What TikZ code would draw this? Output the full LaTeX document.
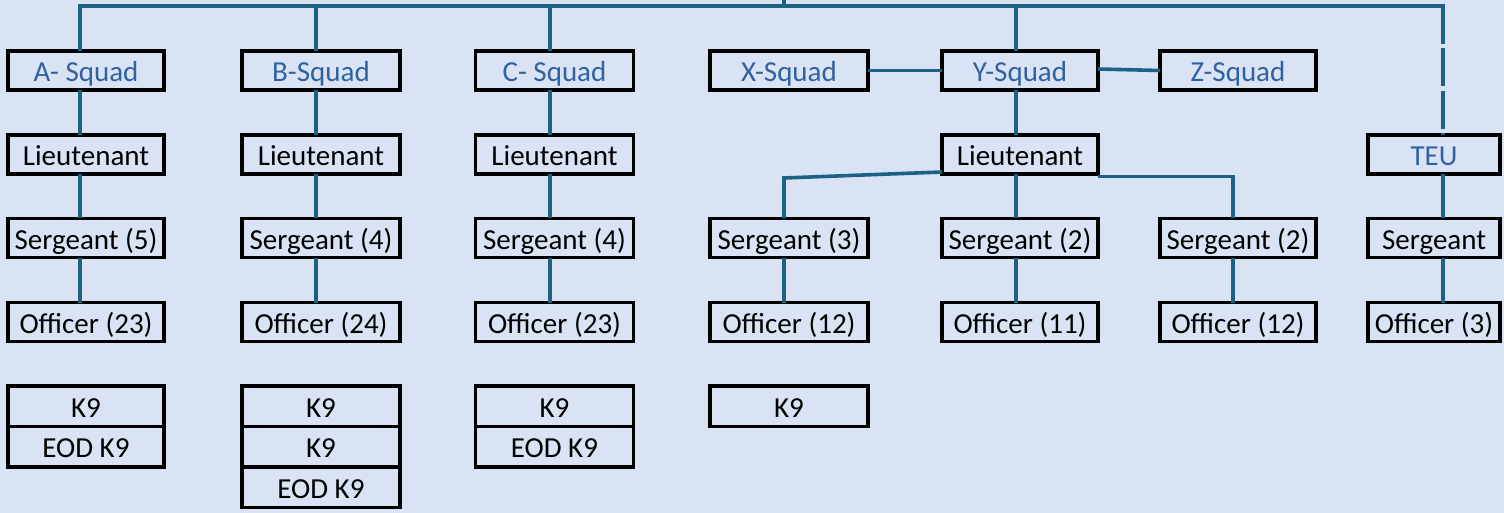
\documentclass[tikz,border=0pt]{standalone}
\usepackage{fontspec}
\setmainfont{Carlito}
\definecolor{bg}{HTML}{DAE3F3}
\definecolor{conn}{HTML}{1C6287}
\definecolor{sqtext}{HTML}{2E62A0}
\begin{document}
\begin{tikzpicture}[x=1pt,y=-1pt,
  box/.style={draw=black,line width=3.8pt,inner sep=0pt,outer sep=0pt,
    minimum height=39pt,text height=24pt,text depth=1.6pt,
    font=\fontsize{29}{31}\selectfont,text=black},
  sq/.style={box,text=sqtext},
  wA/.style={minimum width=156pt},
  wB/.style={minimum width=158pt},
  wT/.style={minimum width=132pt},
  kbox/.style={box,minimum height=40.5pt},
  link/.style={draw=conn,line width=3.6pt}]
\fill[bg] (0,0) rectangle (1504,513);
\useasboundingbox (0,0) rectangle (1504,513);
% squads
\node[sq,wA] (Asq) at (86,70.5) {A- Squad};
\node[sq,wB] (Bsq) at (321,70.5) {B-Squad};
\node[sq,wB] (Csq) at (554.5,70.5) {C- Squad};
\node[sq,wB] (Xsq) at (789,70.5) {X-Squad};
\node[sq,wA] (Ysq) at (1020,70.5) {Y-Squad};
\node[sq,wA] (Zsq) at (1238,70.5) {Z-Squad};
% lieutenants
\node[box,wA] (Alt) at (86,154.5) {Lieutenant};
\node[box,wB] (Blt) at (321,154.5) {Lieutenant};
\node[box,wB] (Clt) at (554.5,154.5) {Lieutenant};
\node[box,wA] (Ylt) at (1020,154.5) {Lieutenant};
\node[sq,wT] (TEU) at (1434,154.5) {TEU};
% sergeants
\node[box,wA] (Asg) at (86,238) {Sergeant (5)};
\node[box,wB] (Bsg) at (321,238) {Sergeant (4)};
\node[box,wB] (Csg) at (554.5,238) {Sergeant (4)};
\node[box,wB] (Y1sg) at (789,238) {Sergeant (3)};
\node[box,wA] (Y2sg) at (1020,238) {Sergeant (2)};
\node[box,wA] (Y3sg) at (1238,238) {Sergeant (2)};
\node[box,wT] (Tsg) at (1434,238) {Sergeant};
% officers
\node[box,wA] (Aof) at (86,322) {Officer (23)};
\node[box,wB] (Bof) at (321,322) {Officer (24)};
\node[box,wB] (Cof) at (554.5,322) {Officer (23)};
\node[box,wB] (Y1of) at (789,322) {Officer (12)};
\node[box,wA] (Y2of) at (1020,322) {Officer (11)};
\node[box,wA] (Y3of) at (1238,322) {Officer (12)};
\node[box,wT] (Tof) at (1434,322) {Officer (3)};
% K9 stacks
\node[kbox,wA] (Ak1) at (86,406.25) {K9};
\node[kbox,wA] (Ak2) at (86,446.75) {EOD K9};
\node[kbox,wB] (Bk1) at (321,406.25) {K9};
\node[kbox,wB] (Bk2) at (321,446.75) {K9};
\node[kbox,wB] (Bk3) at (321,487.25) {EOD K9};
\node[kbox,wB] (Ck1) at (554.5,406.25) {K9};
\node[kbox,wB] (Ck2) at (554.5,446.75) {EOD K9};
\node[kbox,wB] (Xk1) at (789,406.25) {K9};
% top bus
\coordinate (top) at (784,0);
\coordinate (bus) at (784,6);
\coordinate (busR) at (1445,6);
\draw[link] (top) -- (bus);
\draw[link] ([xshift=-6pt]Asq.north) |- (busR);
\draw[link] ([xshift=-5pt]Bsq.north) -- ([xshift=-5pt]Bsq.north |- bus);
\draw[link] ([xshift=-4.5pt]Csq.north) -- ([xshift=-4.5pt]Csq.north |- bus);
\draw[link] ([xshift=-4pt]Ysq.north) -- ([xshift=-4pt]Ysq.north |- bus);
\draw[link,dash pattern=on 38pt off 4.5pt] ([xshift=9pt]TEU.north |- bus) -- ([xshift=9pt]TEU.north);
% squad links
\draw[link] (Xsq.east) -- (Ysq.west);
\draw[link] ([yshift=1.5pt]Ysq.east) -- (Zsq.west);
% column links
\foreach \a/\b/\s in {Asq/Alt/-6,Alt/Asg/-6,Asg/Aof/-6,
  Bsq/Blt/-5,Blt/Bsg/-5,Bsg/Bof/-5,
  Csq/Clt/-4.5,Clt/Csg/-4.5,Csg/Cof/-4.5,
  Ysq/Ylt/-4,Ylt/Y2sg/-4,Y2sg/Y2of/-4,
  Y1sg/Y1of/-5,Y3sg/Y3of/-5,TEU/Tsg/9,Tsg/Tof/9}
  \draw[link] ([xshift=\s pt]\a.south) -- ([xshift=\s pt]\b.north);
% Y lieutenant branches
\draw[link] ([yshift=-17.5pt]Ylt.west) -- (784,178) -- ([xshift=-5pt]Y1sg.north);
\draw[link] ([yshift=-22pt]Ylt.east) -| ([xshift=-5pt]Y3sg.north);
\end{tikzpicture}
\end{document}
